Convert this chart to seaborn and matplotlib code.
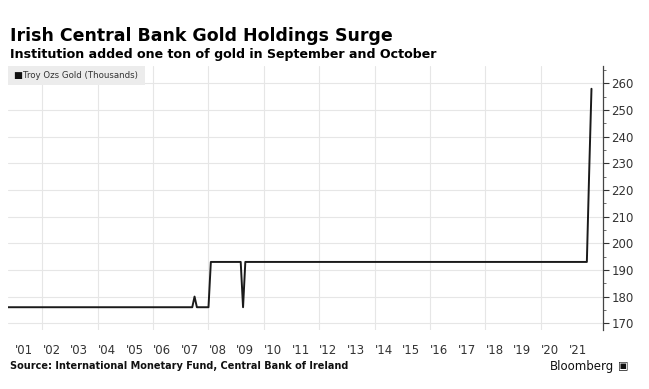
import pandas as pd
import matplotlib
matplotlib.use("Agg")
import matplotlib.pyplot as plt
from matplotlib.ticker import MultipleLocator
import seaborn as sns

# Troy ounces of gold (thousands) at each point where the series changes
dates = ["2000-10-01", "2007-06-01", "2007-07-01", "2007-08-01", "2008-01-01",
         "2008-02-01", "2009-03-01", "2009-04-01", "2009-05-01", "2021-09-01",
         "2021-10-01", "2021-11-01"]
gold = [176, 176, 180, 176, 176,
        193, 193, 176, 193, 193,
        226, 258]

year_labels = ["'%02d" % y for y in range(1, 22)]

df = pd.DataFrame({"date": pd.to_datetime(dates), "gold": gold})

sns.set_style("white")
plt.rcParams["font.family"] = ["DejaVu Sans"]

fig = plt.figure(figsize=(6.49, 3.89), dpi=100)
ax = fig.add_axes([0.012, 0.152, 0.917, 0.678])

sns.lineplot(data=df, x="date", y="gold", ax=ax, color="#1a1a1a", linewidth=1.4)

ax.set_xlim(pd.Timestamp("2000-10-01"), pd.Timestamp("2022-04-01"))
ax.set_ylim(167.5, 266.5)

# x axis: year labels, grid lines at start of even years
label_pos = [pd.Timestamp("%d-05-01" % y) for y in range(2001, 2022)]
ax.set_xticks(label_pos)
ax.set_xticklabels(year_labels)
ax.set_xticks([pd.Timestamp("%d-01-01" % y) for y in range(2002, 2021, 2)], minor=True)
ax.tick_params(axis="x", which="both", length=0, pad=10, labelsize=8.5, colors="#333333")
ax.grid(axis="x", which="minor", color="#e6e6e6", linewidth=0.8)
ax.grid(axis="x", which="major", visible=False)

# y axis on the right
ax.yaxis.tick_right()
ax.yaxis.set_major_locator(MultipleLocator(10))
ax.yaxis.set_minor_locator(MultipleLocator(5))
ax.tick_params(axis="y", which="major", length=4, width=0.8, pad=2, labelsize=8.5,
               colors="#333333", direction="out")
ax.tick_params(axis="y", which="minor", length=2, width=0.6, colors="#555555", direction="out")
ax.grid(axis="y", which="major", color="#e6e6e6", linewidth=0.8)

for side in ["left", "top", "bottom"]:
    ax.spines[side].set_visible(False)
ax.spines["right"].set_color("#444444")
ax.spines["right"].set_linewidth(0.9)
ax.set_xlabel("")
ax.set_ylabel("")

# legend box
fig.patches.append(plt.Rectangle((0.012, 0.782), 0.212, 0.048, transform=fig.transFigure,
                                 facecolor="#ececec", edgecolor="none", zorder=0))
fig.text(0.02, 0.806, "\u25a0", fontsize=6.8, va="center", ha="left", color="#111111")
fig.text(0.036, 0.806, "Troy Ozs Gold (Thousands)", fontsize=6.2, va="center",
         ha="left", color="#333333")

# titles
fig.text(0.015, 0.895, "Irish Central Bank Gold Holdings Surge", fontsize=12.5,
         fontweight="bold", color="#000000", va="baseline")
fig.text(0.015, 0.852, "Institution added one ton of gold in September and October",
         fontsize=9.1, fontweight="bold", color="#000000", va="baseline")

# footer
fig.text(0.015, 0.058, "Source: International Monetary Fund, Central Bank of Ireland",
         fontsize=7, fontweight="bold", color="#111111", va="center")
fig.text(0.946, 0.058, "Bloomberg", fontsize=8.5, color="#111111", va="center", ha="right")
fig.text(0.953, 0.058, "\u25a3", fontsize=8, color="#111111", va="center", ha="left")

fig.savefig("out.png", dpi=100)
